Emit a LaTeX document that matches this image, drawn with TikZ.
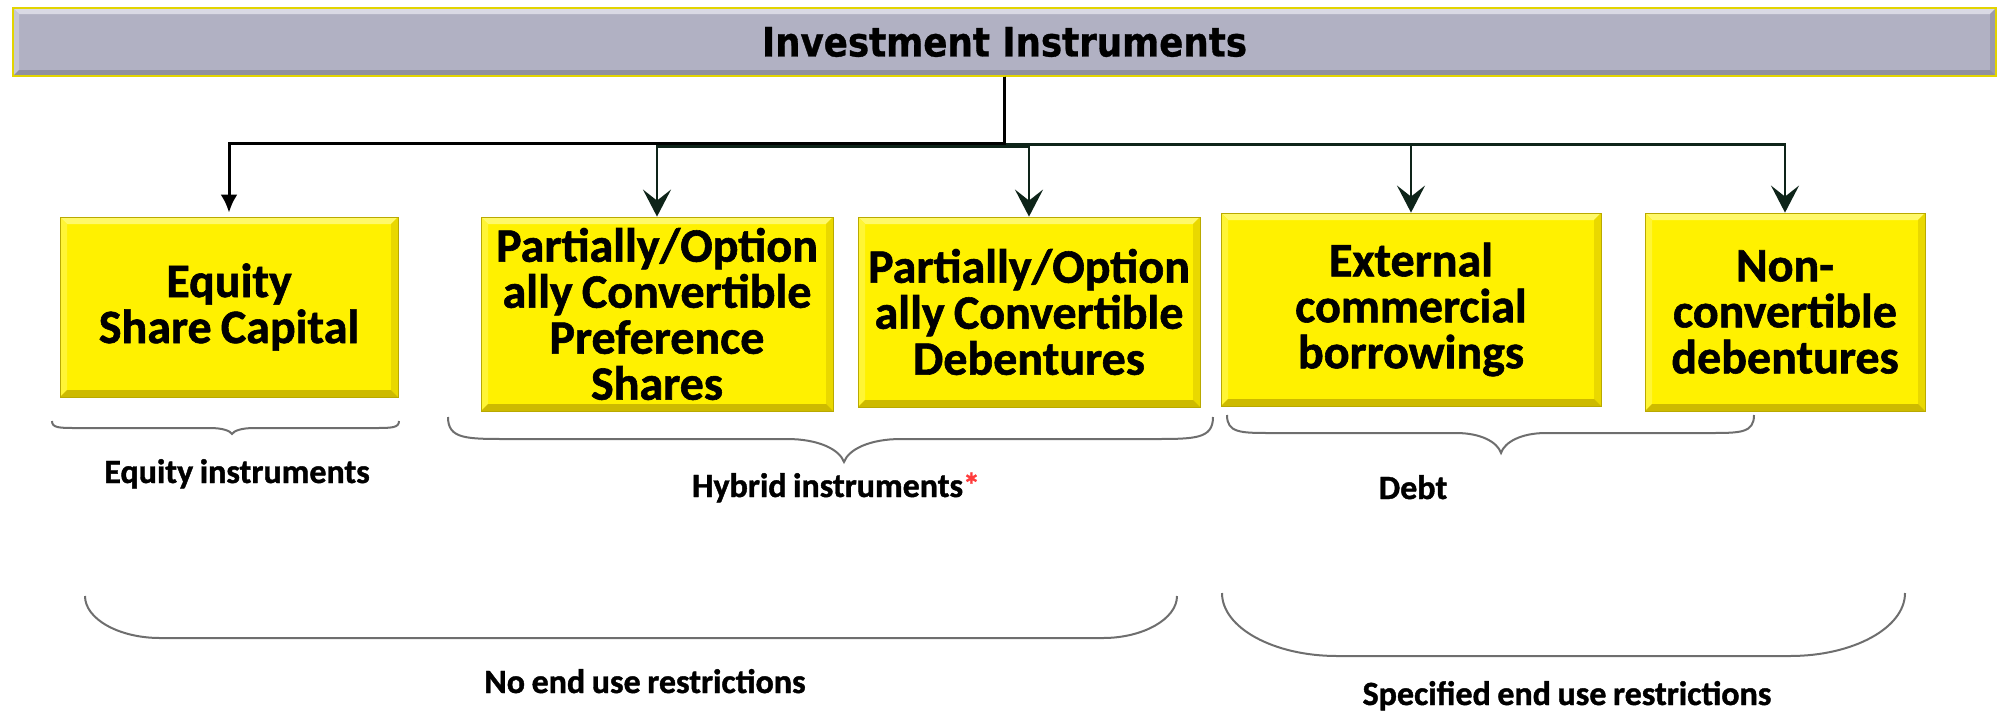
\documentclass[tikz,border=0pt]{standalone}
\usepackage{fontspec}
\setmainfont{Carlito}[WordSpace=0.85, BoldFeatures={FakeBold=1.2}]
\newfontfamily\headfont{DejaVu Sans}[FakeStretch=0.88, BoldFeatures={FakeBold=0.8}]
\usetikzlibrary{arrows.meta}

\definecolor{boxyellow}{HTML}{FFF100}
\definecolor{boxedge}{HTML}{B9A900}
\definecolor{bevtop}{HTML}{FFF96A}
\definecolor{bevleft}{HTML}{FFF535}
\definecolor{bevright}{HTML}{E9D800}
\definecolor{bevbottom}{HTML}{CDBA00}
\definecolor{titlegray}{HTML}{B1B1C3}
\definecolor{titletop}{HTML}{D9D9E4}
\definecolor{titleleft}{HTML}{C6C6D4}
\definecolor{titleright}{HTML}{9A9AAC}
\definecolor{titlebottom}{HTML}{8F8F9E}
\definecolor{titleedge}{HTML}{E2D400}
\definecolor{bracegray}{HTML}{6E6E6E}
\definecolor{linkgreen}{HTML}{0E2419}
\definecolor{astred}{HTML}{FF3B3B}

% bevelled edge: depth, top, left, right, bottom colours
\tikzset{
  bevel/.style n args={5}{path picture={
    \coordinate (bnw) at (path picture bounding box.north west);
    \coordinate (bne) at (path picture bounding box.north east);
    \coordinate (bsw) at (path picture bounding box.south west);
    \coordinate (bse) at (path picture bounding box.south east);
    \fill[#2] (bnw) -- (bne) -- ([xshift=-#1,yshift=-#1]bne) -- ([xshift=#1,yshift=-#1]bnw) -- cycle;
    \fill[#3] (bnw) -- (bsw) -- ([xshift=#1,yshift=#1]bsw) -- ([xshift=#1,yshift=-#1]bnw) -- cycle;
    \fill[#4] (bne) -- (bse) -- ([xshift=-#1,yshift=#1]bse) -- ([xshift=-#1,yshift=-#1]bne) -- cycle;
    \fill[#5] (bsw) -- (bse) -- ([xshift=-#1,yshift=#1]bse) -- ([xshift=#1,yshift=#1]bsw) -- cycle;
  }},
  titlebar/.style={rectangle, inner sep=0pt, fill=titlegray, draw=titleedge, line width=1.2pt,
    bevel={6pt}{titletop}{titleleft}{titleright}{titlebottom},
    font=\headfont\bfseries\fontsize{40.5}{42}\selectfont},
  ybox/.style={rectangle, inner sep=0pt, fill=boxyellow, draw=boxedge, line width=0.8pt,
    bevel={7pt}{bevtop}{bevleft}{bevright}{bevbottom},
    align=flush center, font=\bfseries\fontsize{48}{46}\selectfont},
  lbl/.style={inner sep=0pt, font=\bfseries\fontsize{34}{36}\selectfont},
  mainlink/.style={line width=3pt, black},
  sublink/.style={line width=2.8pt, linkgreen},
  tri/.style={-{Latex[length=18pt,width=17pt]}},
  barb/.style={-{Stealth[length=27pt,width=28pt,inset=11pt]}},
  bracestyle/.style={draw=bracegray, line width=2pt}
}

% curly brace: left x, right x, tip x, end y, flat y, tip y, end curve, tip curve
\newcommand{\curlybrace}[8]{%
  \draw[bracestyle] ({#1},{#4}) .. controls ({#1},{#5}) and ({#1+0.3*#7},{#5}) .. ({#1+#7},{#5})
    -- ({#3-#8},{#5}) .. controls ({#3-0.45*#8},{#5}) and ({#3-0.08*#8},{#5+0.45*(#6-#5)}) .. ({#3},{#6})
    .. controls ({#3+0.08*#8},{#5+0.45*(#6-#5)}) and ({#3+0.45*#8},{#5}) .. ({#3+#8},{#5})
    -- ({#2-#7},{#5}) .. controls ({#2-0.3*#7},{#5}) and ({#2},{#5}) .. ({#2},{#4});
}

\begin{document}
\begin{tikzpicture}[x=1pt,y=-1pt]
\useasboundingbox (0,0) rectangle (2000,713);

% heading bar
\node[titlebar, minimum width=1983pt, minimum height=68pt] (ttl) at (1004.5,42) {Investment Instruments};

% instrument boxes
\node[ybox, minimum width=338pt, minimum height=180pt, text width=330pt] (eq) at (229,307) {Equity\\Share Capital};
\node[ybox, minimum width=352pt, minimum height=194pt, text width=344pt] (pcps) at (657,314) {Partially/Option\\ally Convertible\\Preference\\Shares};
\node[ybox, minimum width=342pt, minimum height=190pt, text width=334pt] (pcd) at (1029,312) {Partially/Option\\ally Convertible\\Debentures};
\node[ybox, minimum width=380pt, minimum height=193pt, text width=370pt] (ecb) at (1411,309.5) {External\\commercial\\borrowings};
\node[ybox, minimum width=280pt, minimum height=198pt, text width=272pt] (ncd) at (1785,312) {Non-\\convertible\\debentures};

% connectors from the heading
\draw[sublink, barb] (ttl.south) -- ++(0,68) -| (ecb.north);
\draw[sublink, barb] (ttl.south) -- ++(0,68) -| (ncd.north);
\draw[sublink, barb] (ttl.south) -- ++(0,70) -| (pcps.north);
\draw[sublink, barb] (ttl.south) -- ++(0,70) -| (pcd.north);
\draw[mainlink, tri, shorten >=4pt] (ttl.south) -- ++(0,67) -| (eq.north);

% group braces
\curlybrace{52}{399}{232}{421}{428}{434}{25}{22}
\curlybrace{448}{1213}{844}{417}{439}{462}{60}{57}
\curlybrace{1227}{1754}{1501}{415}{433}{453}{45}{45}

% wide brackets
\draw[bracestyle] (85,596) .. controls (85,619) and (119,638) .. (160,638) -- (1103,638)
  .. controls (1143,638) and (1177,619) .. (1177,596);
\draw[bracestyle] (1222,593) .. controls (1222,628) and (1274,656) .. (1337,656) -- (1790,656)
  .. controls (1853,656) and (1905,628) .. (1905,593);

% group labels
\node[lbl, anchor=base] (leq) at (237,483) {Equity instruments};
\node[lbl, anchor=base] (lhy) at (836,497) {Hybrid instruments\textcolor{astred}{*}};
\node[lbl, anchor=base] (ldb) at (1413,499) {Debt};
\node[lbl, anchor=base] (lno) at (645,693) {No end use restrictions};
\node[lbl, anchor=base] (lsp) at (1567,705) {Specified end use restrictions};
\end{tikzpicture}
\end{document}
